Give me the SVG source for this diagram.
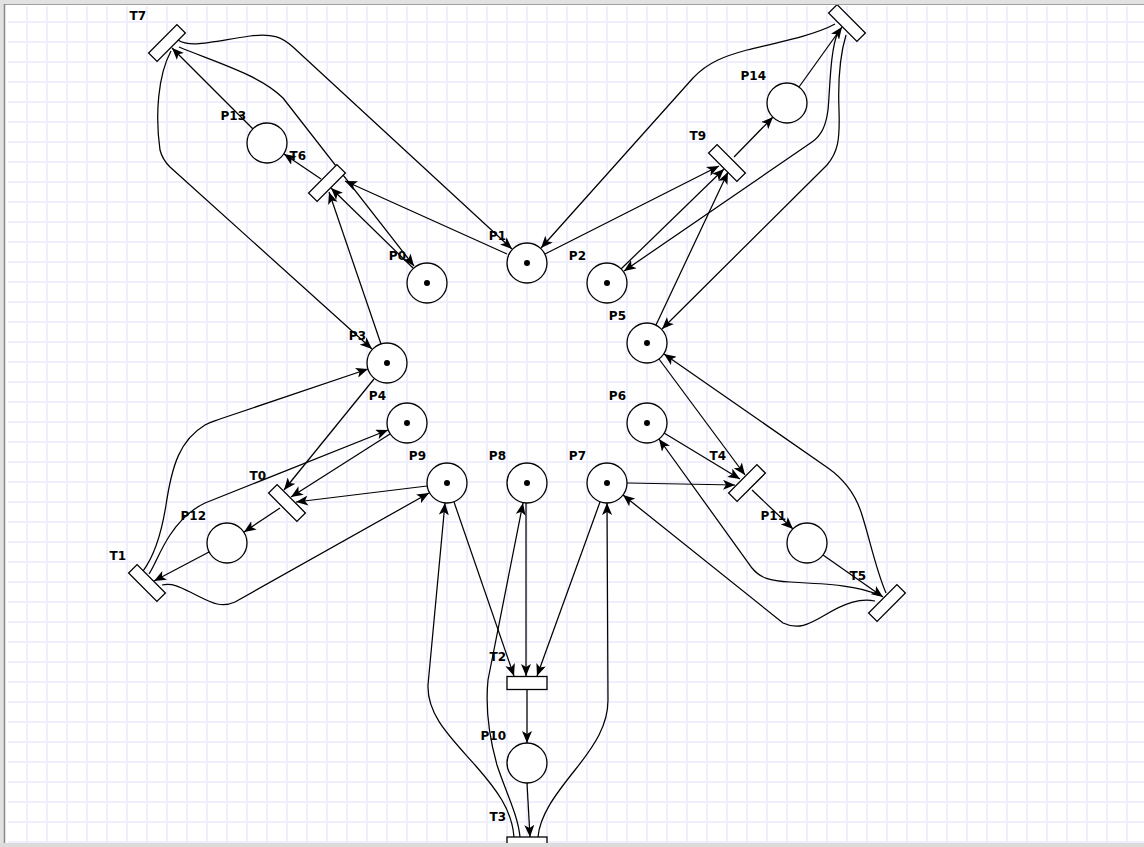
<svg xmlns="http://www.w3.org/2000/svg" width="1144" height="847" viewBox="0 0 1144 847">
<style>
.pl{fill:#fff;stroke:#000;stroke-width:1.3}
.tr{fill:#fff;stroke:#000;stroke-width:1.3}
.tk{fill:#000}
.lb{font-family:"DejaVu Sans",sans-serif;font-weight:bold;font-size:12px;fill:#000;text-anchor:end}
.arc{fill:none;stroke:#000;stroke-width:1.25;marker-end:url(#ah)}
</style>
<defs>
<pattern id="grid" x="17" y="12" width="20" height="20" patternUnits="userSpaceOnUse">
<path d="M10,0 V20 M0,10 H20" stroke="#eeeefd" stroke-width="2" fill="none"/>
</pattern>
<marker id="ah" viewBox="0 0 12 10" refX="12" refY="5" markerWidth="12" markerHeight="10" markerUnits="userSpaceOnUse" orient="auto">
<path d="M0,0 L12,5 L0,10 L3,5 z" fill="#000"/>
</marker>
</defs>
<rect x="0" y="0" width="1144" height="847" fill="#fff"/>
<rect x="8" y="6" width="1136" height="837" fill="url(#grid)"/>

<g id="connectors">
<!-- T6 -->
<path class="arc" d="M381,344 L329,192"/>
<path class="arc" d="M413,268 L331,188"/>
<path class="arc" d="M507,254 L345,181"/>
<path class="arc" d="M321,179 L284,154"/>
<!-- T7 -->
<path class="arc" d="M253,129 L172,48"/>
<path class="arc" d="M171,51 C158,75 155,115 160,150 C162,158 165,162 170,167 L372,349"/>
<path class="arc" d="M178,40 C190,48 210,42 250,36 C272,33 282,37 293,47 L512,249"/>
<path class="arc" d="M179,47 C215,62 260,75 283,98 L414,266"/>
<!-- T9 -->
<path class="arc" d="M545,254 L719,166"/>
<path class="arc" d="M621,269 L724,169"/>
<path class="arc" d="M656,325 L728,172"/>
<path class="arc" d="M734,157 L773,117"/>
<!-- T8 -->
<path class="arc" d="M799,87 L842,27"/>
<path class="arc" d="M835,24 C815,35 780,42 747,50 C725,56 708,62 693,78 L541,248"/>
<path class="arc" d="M838,32 C830,50 830,90 828,110 C826,125 822,135 812,142 L624,271"/>
<path class="arc" d="M846,35 C840,55 838,85 839,110 C840,140 838,152 827,165 L662,329"/>
<!-- T4 -->
<path class="arc" d="M659,359 L745,475"/>
<path class="arc" d="M664,433 L740,479"/>
<path class="arc" d="M627,483 L735,485"/>
<path class="arc" d="M752,490 L793,529"/>
<!-- T5 -->
<path class="arc" d="M823,555 L883,597"/>
<path class="arc" d="M886,593 C876,570 870,540 862,515 C856,495 845,480 828,468 L664,354"/>
<path class="arc" d="M878,595 C860,586 830,584 790,582 C770,581 760,578 752,568 L659,439"/>
<path class="arc" d="M875,601 C860,598 845,603 825,615 C808,625 798,630 783,623 L623,495"/>
<!-- T2 -->
<path class="arc" d="M454,502 L514,676"/>
<path class="arc" d="M526,503 L526,676"/>
<path class="arc" d="M600,502 L537,676"/>
<path class="arc" d="M527,690 L527,743"/>
<!-- T3 -->
<path class="arc" d="M527,783 L530,837"/>
<path class="arc" d="M514,837 C512,810 497,790 475,765 C450,737 427,715 428,685 L445,503"/>
<path class="arc" d="M520,837 C518,815 505,790 497,765 C490,740 485,710 488,680 L523,503"/>
<path class="arc" d="M538,837 C540,815 555,795 575,770 C595,745 608,725 608,700 L607,503"/>
<!-- T0 -->
<path class="arc" d="M374,379 L284,490"/>
<path class="arc" d="M390,434 L291,497"/>
<path class="arc" d="M427,486 L296,502"/>
<path class="arc" d="M280,508 L244,532"/>
<!-- T1 -->
<path class="arc" d="M209,552 L154,581"/>
<path class="arc" d="M143,571 C155,555 162,530 166,505 C172,465 180,440 205,425 C212,421 215,421 220,419 L368,369"/>
<path class="arc" d="M149,574 C155,565 160,550 170,535 C180,520 190,510 205,503 L388,430"/>
<path class="arc" d="M162,585 C175,582 185,590 200,597 C212,603 222,608 235,602 L429,493"/>
</g>

<g id="P0"><circle class="pl" cx="427" cy="283" r="20"/><circle class="tk" cx="427" cy="283" r="3"/><text class="lb" x="406" y="260">P0</text></g>
<g id="P1"><circle class="pl" cx="527" cy="263" r="20"/><circle class="tk" cx="527" cy="263" r="3"/><text class="lb" x="506" y="240">P1</text></g>
<g id="P2"><circle class="pl" cx="607" cy="283" r="20"/><circle class="tk" cx="607" cy="283" r="3"/><text class="lb" x="586" y="260">P2</text></g>
<g id="P3"><circle class="pl" cx="387" cy="363" r="20"/><circle class="tk" cx="387" cy="363" r="3"/><text class="lb" x="366" y="340">P3</text></g>
<g id="P4"><circle class="pl" cx="407" cy="423" r="20"/><circle class="tk" cx="407" cy="423" r="3"/><text class="lb" x="386" y="400">P4</text></g>
<g id="P5"><circle class="pl" cx="647" cy="343" r="20"/><circle class="tk" cx="647" cy="343" r="3"/><text class="lb" x="626" y="320">P5</text></g>
<g id="P6"><circle class="pl" cx="647" cy="423" r="20"/><circle class="tk" cx="647" cy="423" r="3"/><text class="lb" x="626" y="400">P6</text></g>
<g id="P7"><circle class="pl" cx="607" cy="483" r="20"/><circle class="tk" cx="607" cy="483" r="3"/><text class="lb" x="586" y="460">P7</text></g>
<g id="P8"><circle class="pl" cx="527" cy="483" r="20"/><circle class="tk" cx="527" cy="483" r="3"/><text class="lb" x="506" y="460">P8</text></g>
<g id="P9"><circle class="pl" cx="447" cy="483" r="20"/><circle class="tk" cx="447" cy="483" r="3"/><text class="lb" x="426" y="460">P9</text></g>
<g id="P10"><circle class="pl" cx="527" cy="763" r="20"/><text class="lb" x="506" y="740">P10</text></g>
<g id="P11"><circle class="pl" cx="807" cy="543" r="20"/><text class="lb" x="786" y="520">P11</text></g>
<g id="P12"><circle class="pl" cx="227" cy="543" r="20"/><text class="lb" x="206" y="520">P12</text></g>
<g id="P13"><circle class="pl" cx="267" cy="143" r="20"/><text class="lb" x="246" y="120">P13</text></g>
<g id="P14"><circle class="pl" cx="787" cy="103" r="20"/><text class="lb" x="766" y="80">P14</text></g>

<g id="T0"><rect class="tr" x="-20" y="-6" width="40" height="12" transform="translate(287,503) rotate(45)"/><text class="lb" x="266" y="480">T0</text></g>
<g id="T1"><rect class="tr" x="-20" y="-6" width="40" height="12" transform="translate(147,583) rotate(45)"/><text class="lb" x="126" y="560">T1</text></g>
<g id="T2"><rect class="tr" x="-20" y="-6.5" width="40" height="13" transform="translate(527,683)"/><text class="lb" x="506" y="661">T2</text></g>
<g id="T3"><rect class="tr" x="-20" y="-6" width="40" height="12" transform="translate(527,843)"/><text class="lb" x="506" y="821">T3</text></g>
<g id="T4"><rect class="tr" x="-20" y="-6" width="40" height="12" transform="translate(747,483) rotate(-45)"/><text class="lb" x="726" y="460">T4</text></g>
<g id="T5"><rect class="tr" x="-20" y="-6" width="40" height="12" transform="translate(887,603) rotate(-45)"/><text class="lb" x="866" y="580">T5</text></g>
<g id="T6"><rect class="tr" x="-20" y="-6" width="40" height="12" transform="translate(327,183) rotate(-45)"/><text class="lb" x="306" y="160">T6</text></g>
<g id="T7"><rect class="tr" x="-20" y="-6" width="40" height="12" transform="translate(167,43) rotate(-45)"/><text class="lb" x="146" y="20">T7</text></g>
<g id="T8"><rect class="tr" x="-20" y="-6" width="40" height="12" transform="translate(847,23) rotate(45)"/></g>
<g id="T9"><rect class="tr" x="-20" y="-6" width="40" height="12" transform="translate(727,163) rotate(45)"/><text class="lb" x="706" y="140">T9</text></g>

<g id="frame">
<rect x="0" y="0" width="1144" height="4" fill="#e2e2e2"/>
<rect x="0" y="0" width="4" height="847" fill="#e2e2e2"/>
<rect x="0" y="843" width="1144" height="4" fill="#dcdcdc"/>
<line x1="4" y1="4.5" x2="1144" y2="4.5" stroke="#a0a0a0" stroke-width="1"/>
<line x1="4.5" y1="4" x2="4.5" y2="843" stroke="#888" stroke-width="1.5"/>
</g>
</svg>
